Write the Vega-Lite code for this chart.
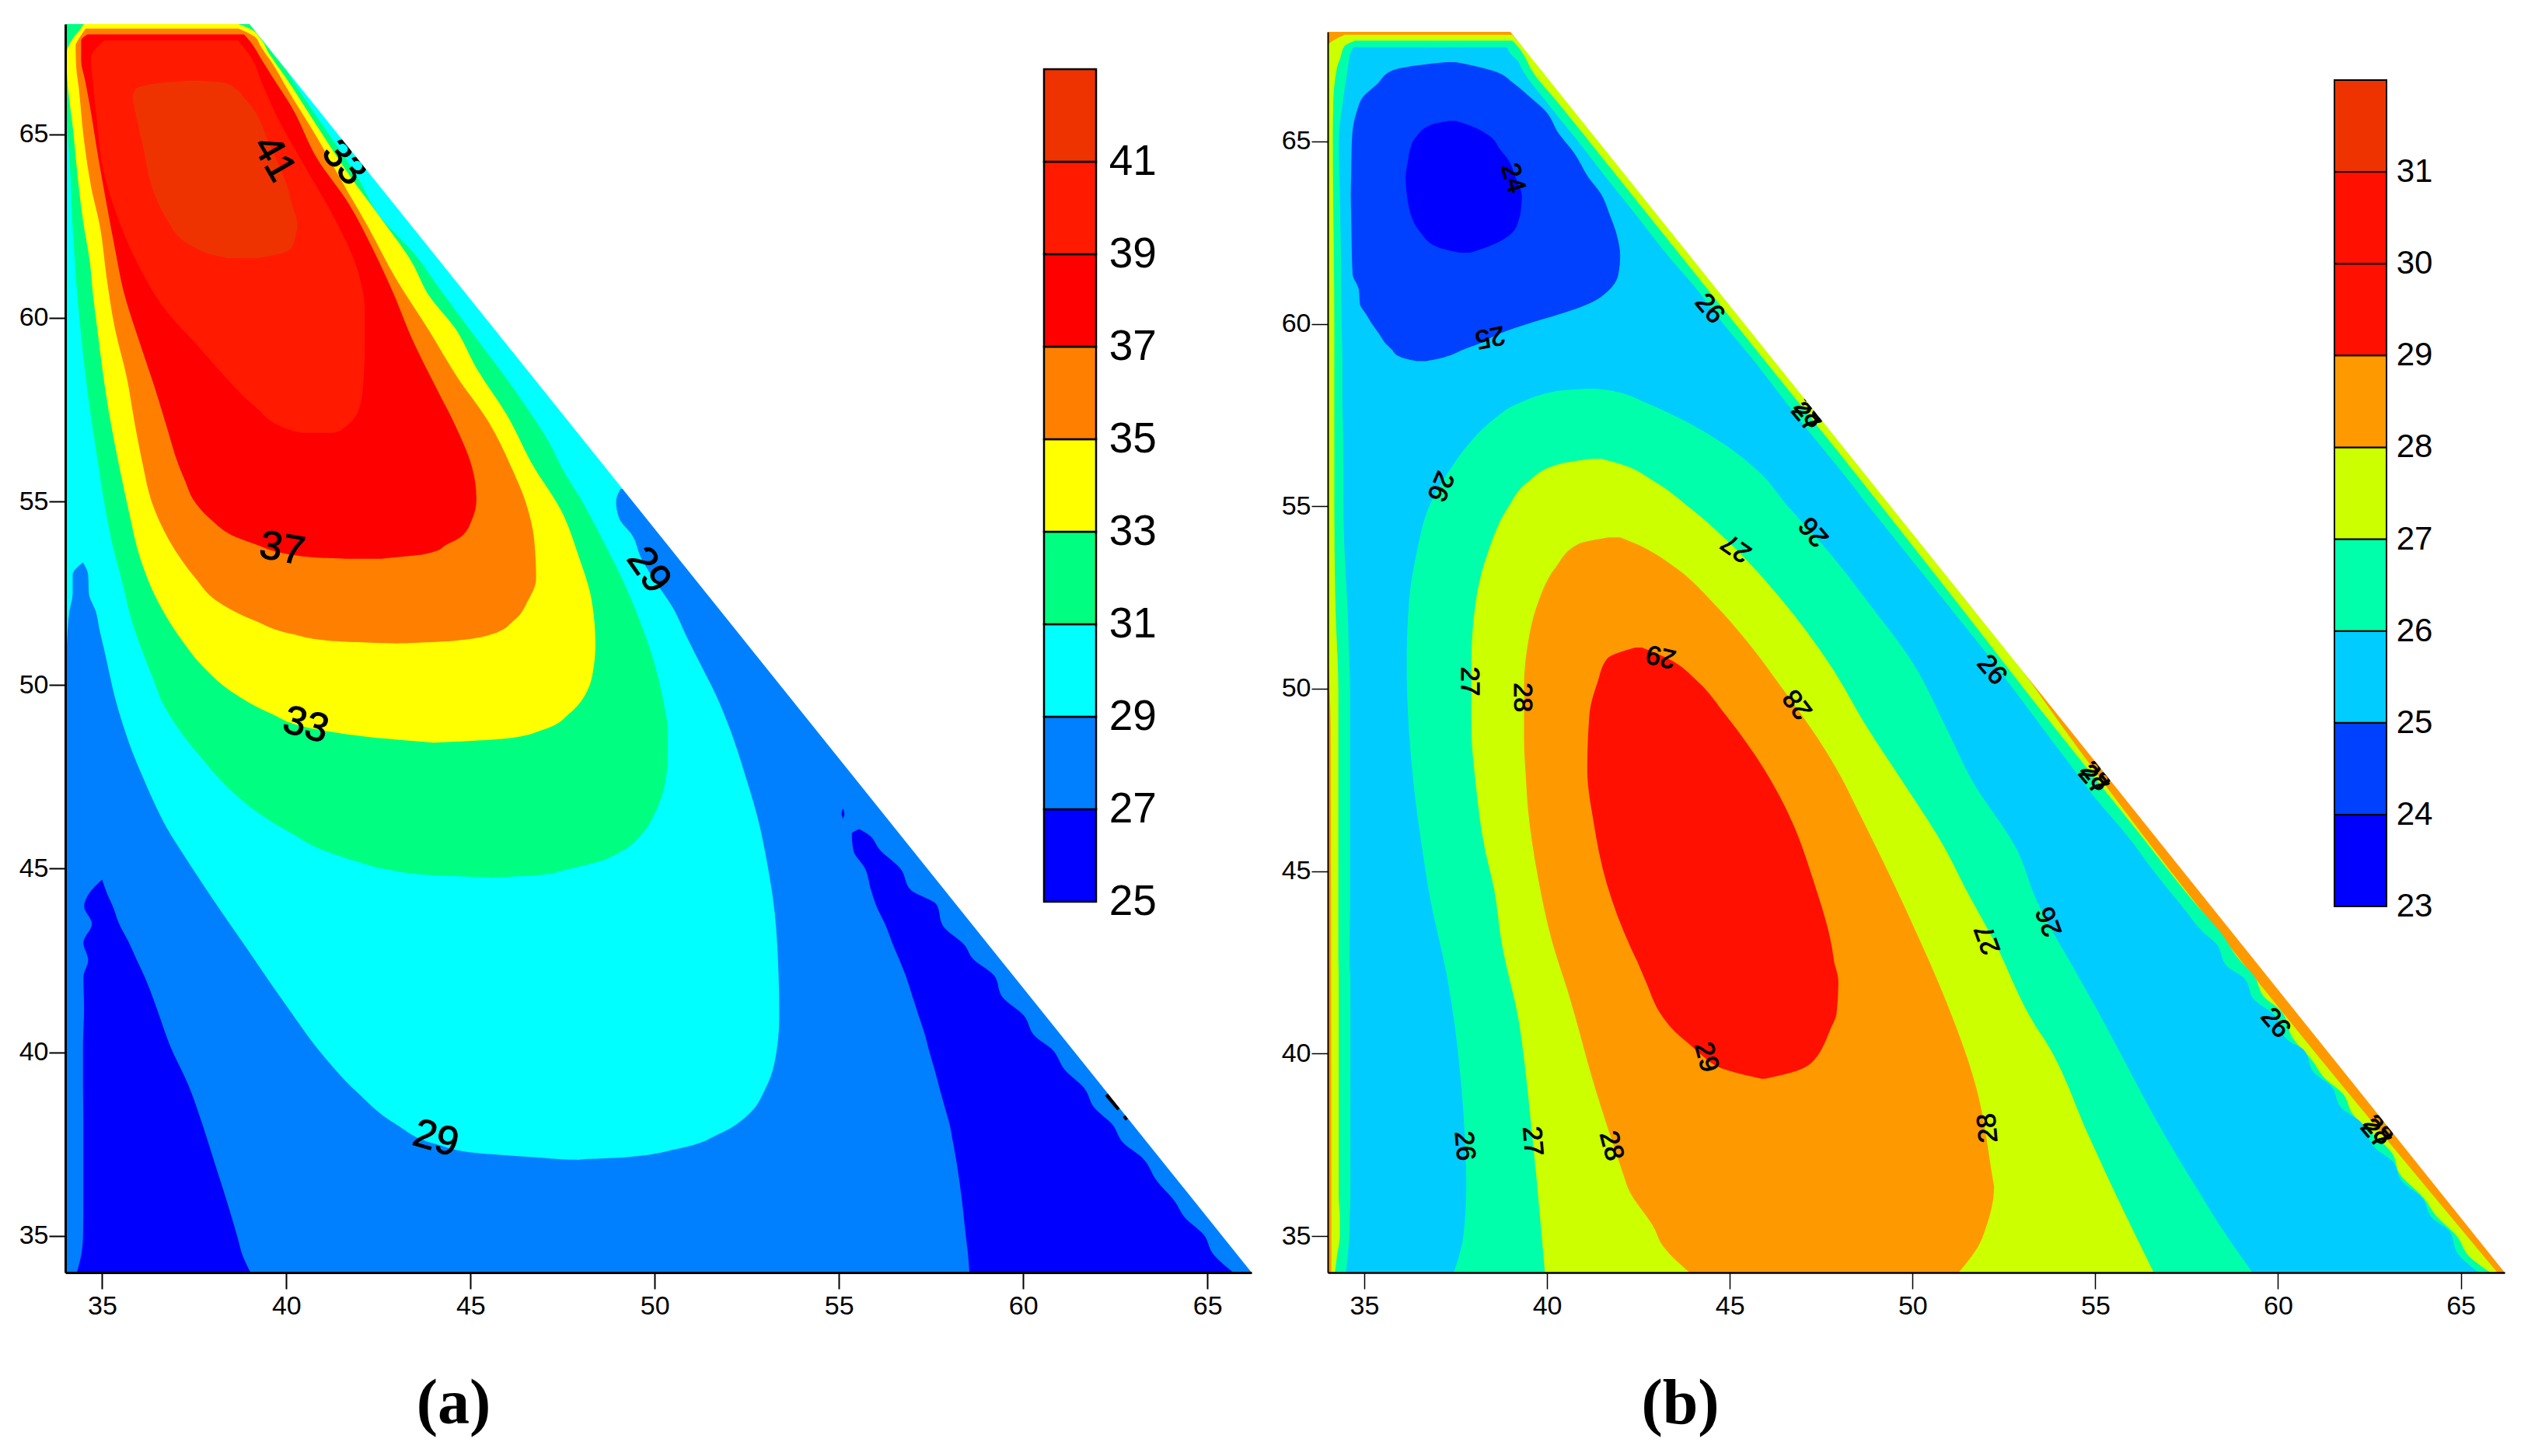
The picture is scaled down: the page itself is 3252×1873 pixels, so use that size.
{"$schema":"https://vega.github.io/schema/vega-lite/v6.json","padding":{"left":24,"top":31,"right":10,"bottom":70},"background":"white","config":{"view":{"stroke":null},"font":"Liberation Sans"},"bounds":"flush","spacing":98,"resolve":{"scale":{"color":"independent"}},
"datasets":{
"contourA":[
{"region":"base","level":29,"y":34,"xl":34,"xr":66.2},{"region":"base","level":29,"y":68,"xl":34,"xr":66.2},
{"region":"l27left","level":27,"y":34,"xl":34,"xr":66.2},{"region":"l27left","level":27,"y":37.06,"xl":34,"xr":66.2},{"region":"l27left","level":27,"y":37.07,"xl":34,"xr":47.95},{"region":"l27left","level":27,"y":37.14,"xl":34,"xr":46.76},{"region":"l27left","level":27,"y":37.26,"xl":34,"xr":45.14},{"region":"l27left","level":27,"y":37.5,"xl":34,"xr":44.06},{"region":"l27left","level":27,"y":38.03,"xl":34,"xr":42.99},{"region":"l27left","level":27,"y":38.92,"xl":34,"xr":41.91},{"region":"l27left","level":27,"y":39.85,"xl":34,"xr":41.05},{"region":"l27left","level":27,"y":41.31,"xl":34,"xr":39.97},{"region":"l27left","level":27,"y":42.88,"xl":34,"xr":38.89},{"region":"l27left","level":27,"y":44.13,"xl":34,"xr":38.03},{"region":"l27left","level":27,"y":45.38,"xl":34,"xr":37.21},{"region":"l27left","level":27,"y":46.1,"xl":34,"xr":36.76},{"region":"l27left","level":27,"y":46.8,"xl":34,"xr":36.41},{"region":"l27left","level":27,"y":47.5,"xl":34,"xr":36.1},{"region":"l27left","level":27,"y":48.2,"xl":34,"xr":35.81},{"region":"l27left","level":27,"y":48.9,"xl":34,"xr":35.57},{"region":"l27left","level":27,"y":49.61,"xl":34,"xr":35.36},{"region":"l27left","level":27,"y":50.39,"xl":34,"xr":35.18},{"region":"l27left","level":27,"y":51.03,"xl":34.04,"xr":35.04},{"region":"l27left","level":27,"y":51.45,"xl":34.06,"xr":34.94},{"region":"l27left","level":27,"y":52,"xl":34.11,"xr":34.83},{"region":"l27left","level":27,"y":52.5,"xl":34.2,"xr":34.64},{"region":"l27left","level":27,"y":53,"xl":34.2,"xr":34.62},{"region":"l27left","level":27,"y":53.34,"xl":34.48,"xr":34.48},
{"region":"l27right","level":27,"y":36.9,"xl":47.95,"xr":66.2},{"region":"l27right","level":27,"y":37.07,"xl":47.95,"xr":66.2},{"region":"l27right","level":27,"y":37.14,"xl":49.2,"xr":66.2},{"region":"l27right","level":27,"y":37.37,"xl":50.62,"xr":66.2},{"region":"l27right","level":27,"y":37.8,"xl":51.8,"xr":66.2},{"region":"l27right","level":27,"y":38.34,"xl":52.58,"xr":66.2},{"region":"l27right","level":27,"y":39,"xl":53.0,"xr":66.2},{"region":"l27right","level":27,"y":39.66,"xl":53.24,"xr":66.2},{"region":"l27right","level":27,"y":40.97,"xl":53.38,"xr":66.2},{"region":"l27right","level":27,"y":43.32,"xl":53.3,"xr":66.2},{"region":"l27right","level":27,"y":45.27,"xl":53.03,"xr":66.2},{"region":"l27right","level":27,"y":46.4,"xl":52.79,"xr":66.2},{"region":"l27right","level":27,"y":47.53,"xl":52.46,"xr":66.2},{"region":"l27right","level":27,"y":48.75,"xl":52.06,"xr":66.2},{"region":"l27right","level":27,"y":49.73,"xl":51.66,"xr":66.2},{"region":"l27right","level":27,"y":50.55,"xl":51.25,"xr":66.2},{"region":"l27right","level":27,"y":51.35,"xl":50.85,"xr":66.2},{"region":"l27right","level":27,"y":52.06,"xl":50.52,"xr":66.2},{"region":"l27right","level":27,"y":52.8,"xl":50.03,"xr":66.2},{"region":"l27right","level":27,"y":53.46,"xl":49.63,"xr":66.2},{"region":"l27right","level":27,"y":54.06,"xl":49.4,"xr":66.2},{"region":"l27right","level":27,"y":54.55,"xl":49.03,"xr":66.2},{"region":"l27right","level":27,"y":55,"xl":48.95,"xr":66.2},{"region":"l27right","level":27,"y":55.34,"xl":49.07,"xr":66.2},
{"region":"l25left","level":25,"y":34,"xl":34.31,"xr":39.03},{"region":"l25left","level":25,"y":34.47,"xl":34.43,"xr":38.81},{"region":"l25left","level":25,"y":34.94,"xl":34.48,"xr":38.68},{"region":"l25left","level":25,"y":35.99,"xl":34.49,"xr":38.37},{"region":"l25left","level":25,"y":37.03,"xl":34.49,"xr":38.04},{"region":"l25left","level":25,"y":38.07,"xl":34.49,"xr":37.71},{"region":"l25left","level":25,"y":39.11,"xl":34.48,"xr":37.34},{"region":"l25left","level":25,"y":40.16,"xl":34.48,"xr":36.85},{"region":"l25left","level":25,"y":41.2,"xl":34.51,"xr":36.48},{"region":"l25left","level":25,"y":42.04,"xl":34.49,"xr":36.16},{"region":"l25left","level":25,"y":42.51,"xl":34.62,"xr":35.94},{"region":"l25left","level":25,"y":42.98,"xl":34.49,"xr":35.73},{"region":"l25left","level":25,"y":43.5,"xl":34.72,"xr":35.46},{"region":"l25left","level":25,"y":43.97,"xl":34.51,"xr":35.29},{"region":"l25left","level":25,"y":44.33,"xl":34.65,"xr":35.13},{"region":"l25left","level":25,"y":44.7,"xl":35,"xr":35},
{"region":"l25right","level":25,"y":34,"xl":58.54,"xr":65.71},{"region":"l25right","level":25,"y":34.53,"xl":58.5,"xr":65.14},{"region":"l25right","level":25,"y":35.02,"xl":58.44,"xr":64.91},{"region":"l25right","level":25,"y":35.5,"xl":58.39,"xr":64.39},{"region":"l25right","level":25,"y":35.95,"xl":58.34,"xr":64.11},{"region":"l25right","level":25,"y":36.48,"xl":58.27,"xr":63.64},{"region":"l25right","level":25,"y":37.14,"xl":58.17,"xr":63.22},{"region":"l25right","level":25,"y":37.52,"xl":58.1,"xr":62.73},{"region":"l25right","level":25,"y":38.05,"xl":58,"xr":62.41},{"region":"l25right","level":25,"y":38.48,"xl":57.88,"xr":61.94},{"region":"l25right","level":25,"y":39.02,"xl":57.73,"xr":61.66},{"region":"l25right","level":25,"y":39.51,"xl":57.6,"xr":61.14},{"region":"l25right","level":25,"y":40.1,"xl":57.43,"xr":60.76},{"region":"l25right","level":25,"y":40.42,"xl":57.35,"xr":60.34},{"region":"l25right","level":25,"y":41.01,"xl":57.16,"xr":60.01},{"region":"l25right","level":25,"y":41.5,"xl":57,"xr":59.44},{"region":"l25right","level":25,"y":42.09,"xl":56.81,"xr":59.21},{"region":"l25right","level":25,"y":42.54,"xl":56.63,"xr":58.64},{"region":"l25right","level":25,"y":42.92,"xl":56.47,"xr":58.41},{"region":"l25right","level":25,"y":43.45,"xl":56.27,"xr":57.82},{"region":"l25right","level":25,"y":44.02,"xl":56,"xr":57.65},{"region":"l25right","level":25,"y":44.42,"xl":55.87,"xr":56.95},{"region":"l25right","level":25,"y":45,"xl":55.71,"xr":56.67},{"region":"l25right","level":25,"y":45.5,"xl":55.39,"xr":56.12},{"region":"l25right","level":25,"y":45.95,"xl":55.35,"xr":55.77},{"region":"l25right","level":25,"y":46.08,"xl":55.55,"xr":55.55},
{"region":"l25dot","level":25,"y":46.36,"xl":55.11,"xr":55.11},{"region":"l25dot","level":25,"y":46.5,"xl":55.07,"xr":55.15},{"region":"l25dot","level":25,"y":46.64,"xl":55.11,"xr":55.11},
{"region":"l31","level":31,"y":44.76,"xl":45.6,"xr":45.6},{"region":"l31","level":31,"y":44.83,"xl":43.83,"xr":46.9},{"region":"l31","level":31,"y":44.97,"xl":42.78,"xr":47.6},{"region":"l31","level":31,"y":45.2,"xl":41.9,"xr":48.5},{"region":"l31","level":31,"y":45.5,"xl":41,"xr":49.15},{"region":"l31","level":31,"y":45.94,"xl":40.17,"xr":49.65},{"region":"l31","level":31,"y":46.5,"xl":39.26,"xr":50},{"region":"l31","level":31,"y":47.2,"xl":38.42,"xr":50.25},{"region":"l31","level":31,"y":48,"xl":37.71,"xr":50.35},{"region":"l31","level":31,"y":48.7,"xl":37.15,"xr":50.36},{"region":"l31","level":31,"y":49.47,"xl":36.66,"xr":50.25},{"region":"l31","level":31,"y":50.18,"xl":36.38,"xr":50.1},{"region":"l31","level":31,"y":50.89,"xl":36.1,"xr":49.9},{"region":"l31","level":31,"y":51.73,"xl":35.81,"xr":49.6},{"region":"l31","level":31,"y":52.86,"xl":35.53,"xr":49.13},{"region":"l31","level":31,"y":53.57,"xl":35.34,"xr":48.78},{"region":"l31","level":31,"y":55,"xl":35.05,"xr":48.03},{"region":"l31","level":31,"y":55.97,"xl":34.9,"xr":47.45},{"region":"l31","level":31,"y":56.48,"xl":34.82,"xr":47.2},{"region":"l31","level":31,"y":58,"xl":34.6,"xr":46.22},{"region":"l31","level":31,"y":59.6,"xl":34.42,"xr":45.04},{"region":"l31","level":31,"y":60.92,"xl":34.3,"xr":44.07},{"region":"l31","level":31,"y":61.68,"xl":34.25,"xr":43.53},{"region":"l31","level":31,"y":62.8,"xl":34.18,"xr":42.51},{"region":"l31","level":31,"y":63.85,"xl":34.14,"xr":41.92},{"region":"l31","level":31,"y":65.46,"xl":34.04,"xr":40.84},{"region":"l31","level":31,"y":66.6,"xl":34,"xr":40.09},{"region":"l31","level":31,"y":68,"xl":34,"xr":39.3},
{"region":"l33","level":33,"y":48.43,"xl":44,"xr":44},{"region":"l33","level":33,"y":48.55,"xl":42.6,"xr":46.01},{"region":"l33","level":33,"y":48.79,"xl":40.85,"xr":46.98},{"region":"l33","level":33,"y":49.24,"xl":39.55,"xr":47.7},{"region":"l33","level":33,"y":49.73,"xl":38.65,"xr":48.11},{"region":"l33","level":33,"y":50.54,"xl":37.7,"xr":48.35},{"region":"l33","level":33,"y":51.1,"xl":37.25,"xr":48.39},{"region":"l33","level":33,"y":52.4,"xl":36.45,"xr":48.27},{"region":"l33","level":33,"y":53.46,"xl":36.03,"xr":47.95},{"region":"l33","level":33,"y":54.75,"xl":35.72,"xr":47.46},{"region":"l33","level":33,"y":55.97,"xl":35.46,"xr":46.7},{"region":"l33","level":33,"y":57.33,"xl":35.2,"xr":46},{"region":"l33","level":33,"y":58.65,"xl":35,"xr":45.15},{"region":"l33","level":33,"y":59.69,"xl":34.87,"xr":44.6},{"region":"l33","level":33,"y":60.64,"xl":34.75,"xr":43.85},{"region":"l33","level":33,"y":61.49,"xl":34.67,"xr":43.42},{"region":"l33","level":33,"y":62.72,"xl":34.47,"xr":42.56},{"region":"l33","level":33,"y":63.9,"xl":34.33,"xr":41.7},{"region":"l33","level":33,"y":65.04,"xl":34.22,"xr":40.95},{"region":"l33","level":33,"y":66.55,"xl":34.05,"xr":39.98},{"region":"l33","level":33,"y":67.17,"xl":34.03,"xr":39.55},{"region":"l33","level":33,"y":67.6,"xl":34.2,"xr":39.3},{"region":"l33","level":33,"y":67.85,"xl":34.4,"xr":39.05},{"region":"l33","level":33,"y":68,"xl":34.5,"xr":38.7},
{"region":"l35","level":35,"y":51.13,"xl":43,"xr":43},{"region":"l35","level":35,"y":51.2,"xl":41.23,"xr":44.5},{"region":"l35","level":35,"y":51.39,"xl":40.15,"xr":45.6},{"region":"l35","level":35,"y":51.75,"xl":39.15,"xr":46.17},{"region":"l35","level":35,"y":52.32,"xl":38.07,"xr":46.57},{"region":"l35","level":35,"y":52.89,"xl":37.55,"xr":46.78},{"region":"l35","level":35,"y":53.94,"xl":36.82,"xr":46.73},{"region":"l35","level":35,"y":55,"xl":36.34,"xr":46.49},{"region":"l35","level":35,"y":55.97,"xl":36.11,"xr":46.09},{"region":"l35","level":35,"y":57.15,"xl":35.88,"xr":45.5},{"region":"l35","level":35,"y":58.37,"xl":35.67,"xr":44.65},{"region":"l35","level":35,"y":59.69,"xl":35.35,"xr":43.85},{"region":"l35","level":35,"y":61.11,"xl":35.12,"xr":42.95},{"region":"l35","level":35,"y":62.44,"xl":34.95,"xr":42.24},{"region":"l35","level":35,"y":63.57,"xl":34.7,"xr":41.59},{"region":"l35","level":35,"y":64.9,"xl":34.5,"xr":40.84},{"region":"l35","level":35,"y":66.31,"xl":34.36,"xr":39.98},{"region":"l35","level":35,"y":66.79,"xl":34.3,"xr":39.71},{"region":"l35","level":35,"y":67.4,"xl":34.28,"xr":39.3},{"region":"l35","level":35,"y":67.65,"xl":34.4,"xr":39.15},{"region":"l35","level":35,"y":67.88,"xl":34.55,"xr":38.7},
{"region":"l37","level":37,"y":53.44,"xl":41.6,"xr":42.6},{"region":"l37","level":37,"y":53.46,"xl":41,"xr":42.78},{"region":"l37","level":37,"y":53.54,"xl":40.2,"xr":43.59},{"region":"l37","level":37,"y":53.64,"xl":39.7,"xr":44.04},{"region":"l37","level":37,"y":53.8,"xl":39.25,"xr":44.31},{"region":"l37","level":37,"y":54.02,"xl":38.65,"xr":44.72},{"region":"l37","level":37,"y":54.51,"xl":37.95,"xr":45.04},{"region":"l37","level":37,"y":55.04,"xl":37.48,"xr":45.16},{"region":"l37","level":37,"y":55.56,"xl":37.25,"xr":45.12},{"region":"l37","level":37,"y":56,"xl":37.07,"xr":45.02},{"region":"l37","level":37,"y":57.04,"xl":36.75,"xr":44.6},{"region":"l37","level":37,"y":58.09,"xl":36.43,"xr":44.07},{"region":"l37","level":37,"y":59.41,"xl":35.99,"xr":43.42},{"region":"l37","level":37,"y":60.73,"xl":35.58,"xr":42.88},{"region":"l37","level":37,"y":61.87,"xl":35.35,"xr":42.35},{"region":"l37","level":37,"y":63.1,"xl":35.12,"xr":41.7},{"region":"l37","level":37,"y":64.33,"xl":34.9,"xr":40.84},{"region":"l37","level":37,"y":65.75,"xl":34.67,"xr":40.14},{"region":"l37","level":37,"y":66.5,"xl":34.53,"xr":39.66},{"region":"l37","level":37,"y":67,"xl":34.43,"xr":39.35},{"region":"l37","level":37,"y":67.55,"xl":34.43,"xr":39},{"region":"l37","level":37,"y":67.72,"xl":34.6,"xr":38.85},
{"region":"l39","level":39,"y":56.87,"xl":40.4,"xr":41.3},{"region":"l39","level":39,"y":56.95,"xl":40.09,"xr":41.49},{"region":"l39","level":39,"y":57.61,"xl":39.12,"xr":42},{"region":"l39","level":39,"y":58.37,"xl":38.36,"xr":42.1},{"region":"l39","level":39,"y":59.22,"xl":37.61,"xr":42.13},{"region":"l39","level":39,"y":60.17,"xl":36.75,"xr":42.13},{"region":"l39","level":39,"y":61.4,"xl":36,"xr":41.9},{"region":"l39","level":39,"y":62.63,"xl":35.46,"xr":41.35},{"region":"l39","level":39,"y":64.04,"xl":35.03,"xr":40.55},{"region":"l39","level":39,"y":65.46,"xl":34.85,"xr":39.76},{"region":"l39","level":39,"y":66.41,"xl":34.75,"xr":39.33},{"region":"l39","level":39,"y":67.07,"xl":34.7,"xr":39.06},{"region":"l39","level":39,"y":67.55,"xl":35.05,"xr":38.69},
{"region":"l41","level":41,"y":61.63,"xl":38.4,"xr":39.2},{"region":"l41","level":41,"y":61.7,"xl":38.05,"xr":39.65},{"region":"l41","level":41,"y":61.92,"xl":37.5,"xr":40.15},{"region":"l41","level":41,"y":62.34,"xl":36.96,"xr":40.27},{"region":"l41","level":41,"y":62.53,"xl":36.85,"xr":40.3},{"region":"l41","level":41,"y":63.1,"xl":36.53,"xr":40.15},{"region":"l41","level":41,"y":63.57,"xl":36.35,"xr":40.03},{"region":"l41","level":41,"y":64.71,"xl":36.1,"xr":39.55},{"region":"l41","level":41,"y":65.75,"xl":35.87,"xr":39.06},{"region":"l41","level":41,"y":66,"xl":35.83,"xr":38.85},{"region":"l41","level":41,"y":66.22,"xl":35.9,"xr":38.65},{"region":"l41","level":41,"y":66.41,"xl":36.7,"xr":38.26},{"region":"l41","level":41,"y":66.46,"xl":37.4,"xr":37.6}
],
"contourB":[
{"region":"base","level":28,"y":34,"xl":34,"xr":66.2},{"region":"base","level":28,"y":68,"xl":34,"xr":66.2},
{"region":"rim27","level":27,"y":34,"xl":34.1,"xr":66},{"region":"rim27","level":27,"y":49,"xl":34.08,"xr":54.07},{"region":"rim27","level":27,"y":50.5,"xl":34.03,"xr":53},{"region":"rim27","level":27,"y":52,"xl":34,"xr":51.8},{"region":"rim27","level":27,"y":67.6,"xl":34,"xr":39.32},{"region":"rim27","level":27,"y":67.92,"xl":34.46,"xr":39.05},
{"region":"rim26","level":26,"y":34,"xl":34.2,"xr":65.81},{"region":"rim26","level":26,"y":34.43,"xl":34.25,"xr":65.24},{"region":"rim26","level":26,"y":35,"xl":34.33,"xr":64.89},{"region":"rim26","level":26,"y":35.56,"xl":34.33,"xr":64.32},{"region":"rim26","level":26,"y":36.06,"xl":34.3,"xr":63.97},{"region":"rim26","level":26,"y":36.7,"xl":34.3,"xr":63.33},{"region":"rim26","level":26,"y":37.27,"xl":34.3,"xr":63.12},{"region":"rim26","level":26,"y":37.84,"xl":34.3,"xr":62.55},{"region":"rim26","level":26,"y":38.33,"xl":34.3,"xr":62.05},{"region":"rim26","level":26,"y":38.9,"xl":34.3,"xr":61.77},{"region":"rim26","level":26,"y":39.33,"xl":34.3,"xr":61.27},{"region":"rim26","level":26,"y":39.83,"xl":34.3,"xr":60.92},{"region":"rim26","level":26,"y":40.4,"xl":34.3,"xr":60.42},{"region":"rim26","level":26,"y":41.18,"xl":34.3,"xr":60.07},{"region":"rim26","level":26,"y":41.53,"xl":34.3,"xr":59.64},{"region":"rim26","level":26,"y":42.1,"xl":34.3,"xr":59.36},{"region":"rim26","level":26,"y":42.67,"xl":34.29,"xr":58.86},{"region":"rim26","level":26,"y":43.31,"xl":34.29,"xr":58.44},{"region":"rim26","level":26,"y":44,"xl":34.29,"xr":57.83},{"region":"rim26","level":26,"y":46,"xl":34.29,"xr":56.23},{"region":"rim26","level":26,"y":48,"xl":34.29,"xr":54.63},{"region":"rim26","level":26,"y":50,"xl":34.29,"xr":53.05},{"region":"rim26","level":26,"y":52,"xl":34.22,"xr":51.5},{"region":"rim26","level":26,"y":55,"xl":34.18,"xr":49.15},{"region":"rim26","level":26,"y":60,"xl":34.18,"xr":45.15},{"region":"rim26","level":26,"y":65,"xl":34.14,"xr":41.15},{"region":"rim26","level":26,"y":66,"xl":34.15,"xr":40.35},{"region":"rim26","level":26,"y":67,"xl":34.25,"xr":39.55},{"region":"rim26","level":26,"y":67.3,"xl":34.35,"xr":39.4},{"region":"rim26","level":26,"y":67.6,"xl":34.45,"xr":39.2},{"region":"rim26","level":26,"y":67.76,"xl":34.75,"xr":39.05},
{"region":"body25","level":25,"y":34,"xl":34.5,"xr":65.49},{"region":"body25","level":25,"y":34.5,"xl":34.55,"xr":64.93},{"region":"body25","level":25,"y":35.14,"xl":34.6,"xr":64.68},{"region":"body25","level":25,"y":35.49,"xl":34.6,"xr":64.22},{"region":"body25","level":25,"y":36.06,"xl":34.62,"xr":63.93},{"region":"body25","level":25,"y":36.49,"xl":34.62,"xr":63.4},{"region":"body25","level":25,"y":37.06,"xl":34.62,"xr":63.12},{"region":"body25","level":25,"y":37.38,"xl":34.62,"xr":62.69},{"region":"body25","level":25,"y":38.19,"xl":34.62,"xr":62.19},{"region":"body25","level":25,"y":38.48,"xl":34.62,"xr":61.77},{"region":"body25","level":25,"y":39.15,"xl":34.62,"xr":61.41},{"region":"body25","level":25,"y":39.47,"xl":34.62,"xr":60.99},{"region":"body25","level":25,"y":40.11,"xl":34.62,"xr":60.7},{"region":"body25","level":25,"y":40.36,"xl":34.62,"xr":60.28},{"region":"body25","level":25,"y":41.1,"xl":34.62,"xr":59.85},{"region":"body25","level":25,"y":41.46,"xl":34.62,"xr":59.36},{"region":"body25","level":25,"y":42.07,"xl":34.62,"xr":59.07},{"region":"body25","level":25,"y":42.39,"xl":34.6,"xr":58.61},{"region":"body25","level":25,"y":43.03,"xl":34.6,"xr":58.29},{"region":"body25","level":25,"y":43.31,"xl":34.6,"xr":57.97},{"region":"body25","level":25,"y":44,"xl":34.61,"xr":57.4},{"region":"body25","level":25,"y":45,"xl":34.61,"xr":56.6},{"region":"body25","level":25,"y":46,"xl":34.61,"xr":55.85},{"region":"body25","level":25,"y":47,"xl":34.61,"xr":55},{"region":"body25","level":25,"y":48,"xl":34.61,"xr":54.25},{"region":"body25","level":25,"y":49,"xl":34.61,"xr":53.5},{"region":"body25","level":25,"y":50,"xl":34.61,"xr":52.75},{"region":"body25","level":25,"y":51,"xl":34.58,"xr":52},{"region":"body25","level":25,"y":52,"xl":34.55,"xr":51.2},{"region":"body25","level":25,"y":53,"xl":34.5,"xr":50.4},{"region":"body25","level":25,"y":54,"xl":34.45,"xr":49.6},{"region":"body25","level":25,"y":55,"xl":34.43,"xr":48.8},{"region":"body25","level":25,"y":56,"xl":34.43,"xr":48.02},{"region":"body25","level":25,"y":57,"xl":34.42,"xr":47.2},{"region":"body25","level":25,"y":58,"xl":34.4,"xr":46.42},{"region":"body25","level":25,"y":59,"xl":34.4,"xr":45.65},{"region":"body25","level":25,"y":60,"xl":34.38,"xr":44.82},{"region":"body25","level":25,"y":61,"xl":34.37,"xr":44.05},{"region":"body25","level":25,"y":62,"xl":34.36,"xr":43.2},{"region":"body25","level":25,"y":63,"xl":34.34,"xr":42.42},{"region":"body25","level":25,"y":64,"xl":34.32,"xr":41.62},{"region":"body25","level":25,"y":65,"xl":34.3,"xr":40.85},{"region":"body25","level":25,"y":66,"xl":34.4,"xr":40.05},{"region":"body25","level":25,"y":67,"xl":34.55,"xr":39.3},{"region":"body25","level":25,"y":67.2,"xl":34.58,"xr":39.2},{"region":"body25","level":25,"y":67.4,"xl":34.62,"xr":39},{"region":"body25","level":25,"y":67.58,"xl":34.7,"xr":38.9},
{"region":"blob24","level":24,"y":58.98,"xl":36.42,"xr":36.7},{"region":"blob24","level":24,"y":59.05,"xl":36.1,"xr":37.07},{"region":"blob24","level":24,"y":59.12,"xl":35.93,"xr":37.3},{"region":"blob24","level":24,"y":59.3,"xl":35.75,"xr":37.72},{"region":"blob24","level":24,"y":59.44,"xl":35.6,"xr":38.1},{"region":"blob24","level":24,"y":59.73,"xl":35.4,"xr":38.7},{"region":"blob24","level":24,"y":60.01,"xl":35.2,"xr":39.51},{"region":"blob24","level":24,"y":60.26,"xl":35.05,"xr":40.33},{"region":"blob24","level":24,"y":60.55,"xl":34.88,"xr":41.14},{"region":"blob24","level":24,"y":60.94,"xl":34.85,"xr":41.71},{"region":"blob24","level":24,"y":61.36,"xl":34.68,"xr":41.95},{"region":"blob24","level":24,"y":61.86,"xl":34.66,"xr":42},{"region":"blob24","level":24,"y":62.43,"xl":34.65,"xr":41.91},{"region":"blob24","level":24,"y":63,"xl":34.64,"xr":41.71},{"region":"blob24","level":24,"y":63.57,"xl":34.63,"xr":41.47},{"region":"blob24","level":24,"y":64,"xl":34.64,"xr":41.14},{"region":"blob24","level":24,"y":64.7,"xl":34.65,"xr":40.73},{"region":"blob24","level":24,"y":65.2,"xl":34.67,"xr":40.33},{"region":"blob24","level":24,"y":65.84,"xl":34.8,"xr":39.95},{"region":"blob24","level":24,"y":66.2,"xl":34.95,"xr":39.55},{"region":"blob24","level":24,"y":66.58,"xl":35.36,"xr":39.1},{"region":"blob24","level":24,"y":66.94,"xl":35.76,"xr":38.5},{"region":"blob24","level":24,"y":67.08,"xl":36.42,"xr":37.96},{"region":"blob24","level":24,"y":67.17,"xl":37.23,"xr":37.5},
{"region":"blob23","level":23,"y":61.95,"xl":37.6,"xr":37.9},{"region":"blob23","level":23,"y":62.11,"xl":36.99,"xr":38.37},{"region":"blob23","level":23,"y":62.5,"xl":36.54,"xr":39.05},{"region":"blob23","level":23,"y":62.86,"xl":36.32,"xr":39.23},{"region":"blob23","level":23,"y":63.07,"xl":36.25,"xr":39.28},{"region":"blob23","level":23,"y":63.5,"xl":36.17,"xr":39.31},{"region":"blob23","level":23,"y":63.99,"xl":36.13,"xr":39.15},{"region":"blob23","level":23,"y":64.49,"xl":36.2,"xr":38.94},{"region":"blob23","level":23,"y":64.77,"xl":36.25,"xr":38.72},{"region":"blob23","level":23,"y":65.13,"xl":36.42,"xr":38.45},{"region":"blob23","level":23,"y":65.45,"xl":36.82,"xr":37.85},{"region":"blob23","level":23,"y":65.56,"xl":37.31,"xr":37.5},
{"region":"core26","level":26,"y":34,"xl":37.45,"xr":59.3},{"region":"core26","level":26,"y":35,"xl":37.71,"xr":58.6},{"region":"core26","level":26,"y":36.35,"xl":37.79,"xr":57.75},{"region":"core26","level":26,"y":38.24,"xl":37.72,"xr":56.63},{"region":"core26","level":26,"y":39.04,"xl":37.66,"xr":56.2},{"region":"core26","level":26,"y":41.29,"xl":37.4,"xr":55},{"region":"core26","level":26,"y":42.18,"xl":37.25,"xr":54.5},{"region":"core26","level":26,"y":44.25,"xl":36.8,"xr":53.37},{"region":"core26","level":26,"y":45.5,"xl":36.6,"xr":52.9},{"region":"core26","level":26,"y":47.57,"xl":36.33,"xr":51.58},{"region":"core26","level":26,"y":48.87,"xl":36.22,"xr":50.95},{"region":"core26","level":26,"y":50.72,"xl":36.16,"xr":50},{"region":"core26","level":26,"y":52.35,"xl":36.22,"xr":48.8},{"region":"core26","level":26,"y":53.76,"xl":36.44,"xr":47.7},{"region":"core26","level":26,"y":54.96,"xl":36.76,"xr":46.62},{"region":"core26","level":26,"y":55.94,"xl":37.3,"xr":45.8},{"region":"core26","level":26,"y":56.7,"xl":37.85,"xr":44.85},{"region":"core26","level":26,"y":57.35,"xl":38.5,"xr":43.75},{"region":"core26","level":26,"y":57.84,"xl":39.26,"xr":42.7},{"region":"core26","level":26,"y":58.12,"xl":40.1,"xr":41.97},{"region":"core26","level":26,"y":58.17,"xl":40.35,"xr":41.75},{"region":"core26","level":26,"y":58.22,"xl":41.1,"xr":41.3},
{"region":"core27","level":27,"y":34,"xl":39.94,"xr":56.6},{"region":"core27","level":27,"y":36.8,"xl":39.69,"xr":55.25},{"region":"core27","level":27,"y":37.7,"xl":39.6,"xr":54.84},{"region":"core27","level":27,"y":40.4,"xl":39.3,"xr":53.6},{"region":"core27","level":27,"y":40.75,"xl":39.25,"xr":53.37},{"region":"core27","level":27,"y":43.08,"xl":38.75,"xr":52.23},{"region":"core27","level":27,"y":44.52,"xl":38.55,"xr":51.45},{"region":"core27","level":27,"y":45.6,"xl":38.3,"xr":50.9},{"region":"core27","level":27,"y":47.57,"xl":38.03,"xr":49.65},{"region":"core27","level":27,"y":48.87,"xl":37.93,"xr":48.8},{"region":"core27","level":27,"y":50.72,"xl":37.93,"xr":47.7},{"region":"core27","level":27,"y":52.46,"xl":38.06,"xr":46.4},{"region":"core27","level":27,"y":53.76,"xl":38.39,"xr":45.23},{"region":"core27","level":27,"y":54.96,"xl":38.93,"xr":43.9},{"region":"core27","level":27,"y":55.67,"xl":39.48,"xr":42.95},{"region":"core27","level":27,"y":56.16,"xl":40.34,"xr":42},{"region":"core27","level":27,"y":56.3,"xl":41.21,"xr":41.5},
{"region":"core28","level":28,"y":34,"xl":43.9,"xr":51.26},{"region":"core28","level":28,"y":34.82,"xl":43.11,"xr":51.85},{"region":"core28","level":28,"y":35.18,"xl":42.95,"xr":51.99},{"region":"core28","level":28,"y":36.35,"xl":42.2,"xr":52.23},{"region":"core28","level":28,"y":36.53,"xl":42.14,"xr":52.2},{"region":"core28","level":28,"y":39.04,"xl":41.32,"xr":51.75},{"region":"core28","level":28,"y":41.6,"xl":40.6,"xr":50.85},{"region":"core28","level":28,"y":43.1,"xl":40.13,"xr":50.2},{"region":"core28","level":28,"y":44.84,"xl":39.75,"xr":49.4},{"region":"core28","level":28,"y":46.69,"xl":39.48,"xr":48.49},{"region":"core28","level":28,"y":47.57,"xl":39.42,"xr":48.05},{"region":"core28","level":28,"y":48.65,"xl":39.37,"xr":47.4},{"region":"core28","level":28,"y":50.06,"xl":39.37,"xr":46.4},{"region":"core28","level":28,"y":51.26,"xl":39.48,"xr":45.5},{"region":"core28","level":28,"y":52.35,"xl":39.75,"xr":44.55},{"region":"core28","level":28,"y":53.33,"xl":40.24,"xr":43.5},{"region":"core28","level":28,"y":53.98,"xl":40.89,"xr":42.41},{"region":"core28","level":28,"y":54.15,"xl":41.7,"xr":42},
{"region":"core29","level":29,"y":39.31,"xl":45.88,"xr":45.95},{"region":"core29","level":29,"y":39.54,"xl":44.95,"xr":46.86},{"region":"core29","level":29,"y":39.94,"xl":44.25,"xr":47.4},{"region":"core29","level":29,"y":40.12,"xl":44.05,"xr":47.51},{"region":"core29","level":29,"y":40.66,"xl":43.44,"xr":47.75},{"region":"core29","level":29,"y":41.1,"xl":43.1,"xr":47.92},{"region":"core29","level":29,"y":41.98,"xl":42.7,"xr":47.97},{"region":"core29","level":29,"y":42.54,"xl":42.46,"xr":47.85},{"region":"core29","level":29,"y":42.88,"xl":42.3,"xr":47.8},{"region":"core29","level":29,"y":44.7,"xl":41.62,"xr":47.3},{"region":"core29","level":29,"y":46.36,"xl":41.27,"xr":46.7},{"region":"core29","level":29,"y":47.78,"xl":41.1,"xr":45.95},{"region":"core29","level":29,"y":49.3,"xl":41.16,"xr":44.87},{"region":"core29","level":29,"y":50.17,"xl":41.38,"xr":44.15},{"region":"core29","level":29,"y":50.83,"xl":41.65,"xr":43.3},{"region":"core29","level":29,"y":51.13,"xl":42.41,"xr":42.6}
],
"labelsA":[{"label":"41","x":39.67,"y":64.34,"rotation":60},{"label":"33","x":41.57,"y":64.23,"rotation":50},{"label":"37","x":39.89,"y":53.71,"rotation":10},{"label":"29","x":49.84,"y":53.13,"rotation":55},{"label":"33","x":40.53,"y":48.91,"rotation":16},{"label":"29","x":44.06,"y":37.65,"rotation":16},{"label":"27","x":62.85,"y":38.6,"rotation":50}],
"labelsB":[{"label":"24","x":39.06,"y":63.99,"rotation":74},{"label":"25","x":38.44,"y":59.65,"rotation":169},{"label":"26","x":44.44,"y":60.41,"rotation":50},{"label":"27","x":47.07,"y":57.44,"rotation":50},{"label":"28","x":47.15,"y":57.55,"rotation":50},{"label":"26","x":37.07,"y":55.55,"rotation":113},{"label":"27","x":37.87,"y":50.2,"rotation":90},{"label":"28","x":39.32,"y":49.76,"rotation":90},{"label":"29","x":43.12,"y":50.9,"rotation":193},{"label":"27","x":45.19,"y":53.87,"rotation":215},{"label":"26","x":47.31,"y":54.31,"rotation":230},{"label":"28","x":46.87,"y":49.58,"rotation":233},{"label":"26","x":52.16,"y":50.51,"rotation":50},{"label":"27","x":54.93,"y":47.5,"rotation":50},{"label":"28","x":55,"y":47.6,"rotation":50},{"label":"27","x":52.07,"y":43.13,"rotation":250},{"label":"26","x":53.75,"y":43.62,"rotation":250},{"label":"26","x":59.92,"y":40.83,"rotation":50},{"label":"29","x":44.35,"y":39.9,"rotation":75},{"label":"28","x":52.07,"y":37.96,"rotation":265},{"label":"26","x":37.73,"y":37.47,"rotation":85},{"label":"27","x":39.59,"y":37.6,"rotation":85},{"label":"28","x":41.75,"y":37.47,"rotation":75},{"label":"27","x":62.65,"y":37.8,"rotation":50},{"label":"28","x":62.73,"y":37.9,"rotation":50}],
"outside":[{"y":34,"edge":66.2,"limit":66.2},{"y":68,"edge":39,"limit":66.2}],
"barA":[{"level":25,"low":25,"high":27},{"level":27,"low":27,"high":29},{"level":29,"low":29,"high":31},{"level":31,"low":31,"high":33},{"level":33,"low":33,"high":35},{"level":35,"low":35,"high":37},{"level":37,"low":37,"high":39},{"level":39,"low":39,"high":41},{"level":41,"low":41,"high":43}],
"barB":[{"level":23,"low":23,"high":24},{"level":24,"low":24,"high":25},{"level":25,"low":25,"high":26},{"level":26,"low":26,"high":27},{"level":27,"low":27,"high":28},{"level":28,"low":28,"high":29},{"level":29,"low":29,"high":30},{"level":30,"low":30,"high":31},{"level":31,"low":31,"high":32}]
},
"hconcat":[
{"width":1526,"height":1606,"resolve":{"scale":{"x":"independent","y":"independent"}},"layer":[
{"encoding":{"x":{"field":"xl","type":"quantitative","stack":null,"scale":{"domain":[34,66.2],"nice":false,"zero":false},"axis":{"values":[35,40,45,50,55,60,65],"title":"(a)","titleFont":"Liberation Serif","titleFontSize":82,"titleFontWeight":"bold","titleX":499,"titleY":168,"titleBaseline":"middle","titleColor":"black","labelFontSize":34,"labelFont":"Liberation Sans","labelColor":"black","labelPadding":5,"tickSize":21,"tickWidth":2,"tickColor":"black","domainWidth":3,"domainColor":"black","grid":false,"zindex":1,"labelFlush":false,"labelOverlap":false}},"y":{"field":"y","type":"quantitative","scale":{"domain":[34,68],"nice":false,"zero":false},"axis":{"values":[35,40,45,50,55,60,65],"title":null,"labelFontSize":34,"labelFont":"Liberation Sans","labelColor":"black","labelPadding":1,"tickSize":21,"tickWidth":2,"tickColor":"black","domainWidth":3,"domainColor":"black","grid":false,"zindex":1,"labelFlush":false,"labelOverlap":false}}},
"layer":[
{"data":{"name":"contourA"},"mark":{"type":"area","orient":"horizontal","interpolate":"monotone"},"encoding":{"x2":{"field":"xr"},"detail":{"field":"region"},"color":{"field":"level","type":"nominal","scale":{"domain":[25,27,29,31,33,35,37,39,41],"range":["#0000FF","#0080FF","#00FFFF","#00FF80","#FFFF00","#FF8000","#FF0000","#FF1A00","#EE3300"]},"legend":null}}},
{"data":{"name":"labelsA"},"mark":{"type":"text","font":"Liberation Sans","fontSize":52,"color":"black","stroke":"black","strokeWidth":1,"align":"center","baseline":"middle"},"encoding":{"x":{"field":"x","type":"quantitative"},"text":{"field":"label"},"angle":{"field":"rotation","type":"quantitative","scale":null}}},
{"data":{"name":"outside"},"mark":{"type":"area","orient":"horizontal","color":"white"},"encoding":{"x":{"field":"edge","type":"quantitative","stack":null},"x2":{"field":"limit"}}}
]},
{"data":{"name":"barA"},"encoding":{"y":{"field":"low","type":"quantitative","scale":{"domain":[25,43],"range":[1129,58],"nice":false,"zero":false},"axis":null}},"layer":[
{"mark":{"type":"rect","stroke":"black","strokeWidth":2.5},"encoding":{"x":{"datum":0,"type":"quantitative","scale":{"domain":[0,1],"range":[1259,1326],"nice":false,"zero":false},"axis":null},"x2":{"datum":1},"y2":{"field":"high"},"color":{"field":"level","type":"nominal"}}},
{"mark":{"type":"text","font":"Liberation Sans","fontSize":55,"color":"black","align":"left","baseline":"middle"},"encoding":{"x":{"datum":1.25,"type":"quantitative"},"text":{"field":"low"}}}
]}
]},
{"width":1514,"height":1606,"resolve":{"scale":{"x":"independent","y":"independent"}},"layer":[
{"encoding":{"x":{"field":"xl","type":"quantitative","stack":null,"scale":{"domain":[34,66.2],"nice":false,"zero":false},"axis":{"values":[35,40,45,50,55,60,65],"title":"(b)","titleFont":"Liberation Serif","titleFontSize":82,"titleFontWeight":"bold","titleX":453,"titleY":168,"titleBaseline":"middle","titleColor":"black","labelFontSize":34,"labelFont":"Liberation Sans","labelColor":"black","labelPadding":5,"tickSize":21,"tickWidth":1.5,"tickColor":"black","domainWidth":2.5,"domainColor":"black","grid":false,"zindex":1,"labelFlush":false,"labelOverlap":false}},"y":{"field":"y","type":"quantitative","scale":{"domain":[34,68],"range":[1606,10],"nice":false,"zero":false},"axis":{"values":[35,40,45,50,55,60,65],"title":null,"labelFontSize":34,"labelFont":"Liberation Sans","labelColor":"black","labelPadding":1,"tickSize":21,"tickWidth":1.5,"tickColor":"black","domainWidth":2,"domainColor":"black","grid":false,"zindex":1,"labelFlush":false,"labelOverlap":false}}},
"layer":[
{"data":{"name":"contourB"},"mark":{"type":"area","orient":"horizontal","interpolate":"monotone"},"encoding":{"x2":{"field":"xr"},"detail":{"field":"region"},"color":{"field":"level","type":"nominal","scale":{"domain":[23,24,25,26,27,28,29,30,31],"range":["#0000FF","#0040FF","#00CCFF","#00FFAA","#CCFF00","#FF9900","#FF1000","#FF1000","#EE3300"]},"legend":null}}},
{"data":{"name":"labelsB"},"mark":{"type":"text","font":"Liberation Sans","fontSize":34,"color":"black","stroke":"black","strokeWidth":1,"align":"center","baseline":"middle"},"encoding":{"x":{"field":"x","type":"quantitative"},"text":{"field":"label"},"angle":{"field":"rotation","type":"quantitative","scale":null}}},
{"data":{"name":"outside"},"mark":{"type":"area","orient":"horizontal","color":"white"},"encoding":{"x":{"field":"edge","type":"quantitative","stack":null},"x2":{"field":"limit"}}}
]},
{"data":{"name":"barB"},"encoding":{"y":{"field":"low","type":"quantitative","scale":{"domain":[23,32],"range":[1135,72],"nice":false,"zero":false},"axis":null}},"layer":[
{"mark":{"type":"rect","stroke":"black","strokeWidth":2},"encoding":{"x":{"datum":0,"type":"quantitative","scale":{"domain":[0,1],"range":[1295,1362],"nice":false,"zero":false},"axis":null},"x2":{"datum":1},"y2":{"field":"high"},"color":{"field":"level","type":"nominal"}}},
{"mark":{"type":"text","font":"Liberation Sans","fontSize":42,"color":"black","align":"left","baseline":"middle"},"encoding":{"x":{"datum":1.19,"type":"quantitative"},"text":{"field":"low"}}}
]}
]}
]}
